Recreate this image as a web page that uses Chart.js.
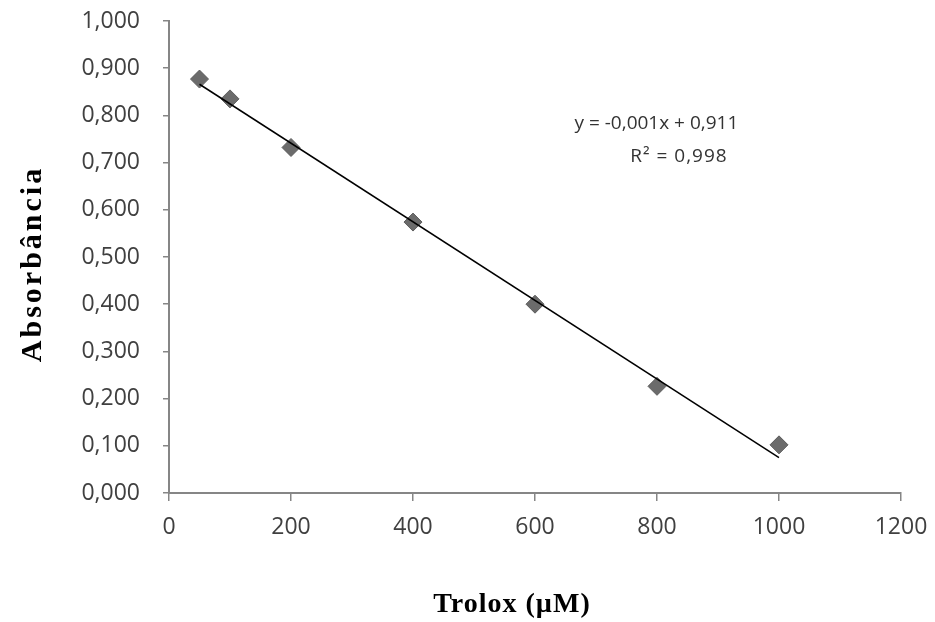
<!DOCTYPE html>
<html>
<head>
<meta charset="utf-8">
<script src="https://cdn.jsdelivr.net/npm/chart.js@4"></script>
<style>
    html, body { margin: 0; padding: 0; background: #fff; }
    canvas { display: block; }
</style>
</head>
<body>
<canvas id="chart" width="935" height="622"></canvas>
<script>
// data
const troloxUM = [50, 100, 200, 400, 600, 800, 1000];
const absorbance = [0.877, 0.835, 0.732, 0.574, 0.400, 0.226, 0.102];

// linear trendline as drawn (end points)
const trendX = [50, 1000];
const trendY = [0.866, 0.075];

const equationLines = ["y = -0,001x + 0,911", "R² = 0,998"];
const xTitle = "Trolox (µM)";
const yTitle = "Absorbância";

const AXIS_GRAY = "#868686";
const TICK_FONT = { family: "'Open Sans', sans-serif", size: 23 };

// axis titles + equation drawn by hand (the positions don't sit centred on the axes)
const annotations = {
    id: "annotations",
    afterDraw(chart) {
        const { ctx, chartArea, scales } = chart;
        ctx.save();

        ctx.fillStyle = "#000";
        ctx.textAlign = "center";
        ctx.textBaseline = "middle";
        ctx.font = "bold 28px 'Liberation Serif', serif";
        ctx.letterSpacing = "1px";
        ctx.fillText(xTitle, chartArea.left + 343, chartArea.bottom + 112);

        ctx.font = "bold 30px 'Liberation Serif', serif";
        ctx.letterSpacing = "3px";
        ctx.translate(chartArea.left - 136, chartArea.top + 243);
        ctx.rotate(-Math.PI / 2);
        ctx.fillText(yTitle, 0, 0);
        ctx.restore();

        ctx.save();
        ctx.fillStyle = "#333";
        ctx.font = "19px 'Open Sans', sans-serif";
        ctx.textAlign = "center";
        ctx.textBaseline = "middle";
        ctx.fillText(equationLines[0], scales.x.getPixelForValue(799), scales.y.getPixelForValue(0.782));
        ctx.letterSpacing = "1px";
        ctx.fillText(equationLines[1], scales.x.getPixelForValue(836), scales.y.getPixelForValue(0.712));
        ctx.restore();
    }
};

new Chart(document.getElementById("chart"), {
    type: "scatter",
    data: {
        datasets: [
            {
                label: "Absorbância",
                data: troloxUM.map((x, i) => ({ x, y: absorbance[i] })),
                pointStyle: "rectRot",
                pointRadius: 9,
                backgroundColor: "#6b6b6b",
                borderColor: "#5c5c5c",
                borderWidth: 1,
                order: 2
            },
            {
                label: "Linear",
                type: "line",
                data: trendX.map((x, i) => ({ x, y: trendY[i] })),
                borderColor: "#000",
                borderWidth: 1.5,
                pointRadius: 0,
                fill: false,
                order: 1
            }
        ]
    },
    options: {
        responsive: false,
        animation: false,
        layout: { padding: { top: 21, right: 34, left: 0, bottom: 0 } },
        plugins: {
            legend: { display: false },
            tooltip: { enabled: false }
        },
        scales: {
            x: {
                type: "linear",
                min: 0,
                max: 1200,
                ticks: {
                    stepSize: 200,
                    color: "#404040",
                    font: TICK_FONT,
                    padding: 13,
                    maxRotation: 0,
                    callback: v => String(v)
                },
                grid: { drawOnChartArea: false, drawTicks: true, tickLength: 8, color: AXIS_GRAY, lineWidth: 1.5 },
                border: { display: true, color: AXIS_GRAY, width: 2 },
                afterFit(scale) {
                    scale.height = 129;
                    scale.paddingLeft = 0;
                    scale.paddingRight = 0;
                }
            },
            y: {
                type: "linear",
                min: 0,
                max: 1,
                ticks: {
                    stepSize: 0.1,
                    color: "#404040",
                    font: TICK_FONT,
                    padding: 23,
                    callback: v => v.toFixed(3).replace(".", ",")
                },
                grid: { drawOnChartArea: false, drawTicks: true, tickLength: 6, color: AXIS_GRAY, lineWidth: 1.5 },
                border: { display: true, color: AXIS_GRAY, width: 2 },
                afterFit(scale) {
                    scale.width = 169;
                    scale.paddingTop = 0;
                    scale.paddingBottom = 0;
                }
            }
        }
    },
    plugins: [annotations]
});
</script>
</body>
</html>
